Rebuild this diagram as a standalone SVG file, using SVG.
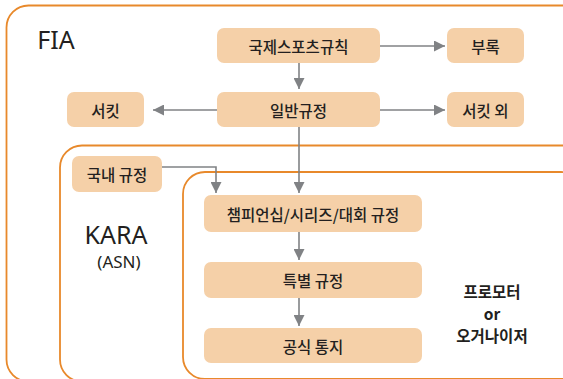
<svg xmlns="http://www.w3.org/2000/svg" width="563" height="379" viewBox="0 0 563 379">
<style>
.frame{fill:none;stroke:#E8892B;stroke-width:1.8}
.box{fill:#F5D0A8}
.t{font-family:"Noto Sans CJK KR","Noto Sans",sans-serif;font-size:15.5px;font-weight:500;fill:#231F20;text-anchor:middle;dominant-baseline:central}
.big{font-family:"Noto Sans","Liberation Sans",sans-serif;fill:#231F20;text-anchor:middle}
.pr{font-family:"Noto Sans CJK KR","Noto Sans",sans-serif;font-size:15.5px;font-weight:bold;fill:#231F20;text-anchor:middle}
.c{fill:none;stroke:#808285;stroke-width:1.6}
</style>
<defs>
<marker id="ah" markerUnits="userSpaceOnUse" markerWidth="11" markerHeight="11" refX="10" refY="5" orient="auto" viewBox="0 0 10 10">
<path d="M0,0 L10,5 L0,10 z" fill="#808285"/>
</marker>
</defs>
<g id="fia">
<rect class="frame" x="6.5" y="5.5" width="580" height="376" rx="22"/>
<text class="big" x="56" y="49" font-size="25">FIA</text>
</g>
<g id="kara">
<rect class="frame" x="60" y="145.5" width="530" height="236" rx="22"/>
<text class="big" x="116" y="244" font-size="25">KARA</text>
<text class="big" x="119" y="268" font-size="17">(ASN)</text>
</g>
<g id="promoter">
<rect class="frame" x="183" y="172" width="400" height="207" rx="22"/>
<text class="pr" x="492" y="298">프로모터</text>
<text class="pr" x="492" y="320">or</text>
<text class="pr" x="492" y="342">오거나이저</text>
</g>
<g id="n-isc"><rect class="box" x="217" y="28" width="163" height="35" rx="7"/><text class="t" x="298.5" y="45.5">국제스포츠규칙</text></g>
<g id="n-appendix"><rect class="box" x="447" y="28" width="77" height="35" rx="7"/><text class="t" x="485.5" y="45.5">부록</text></g>
<g id="n-general"><rect class="box" x="217" y="92" width="163" height="35" rx="7"/><text class="t" x="298.5" y="109.5">일반규정</text></g>
<g id="n-circuit"><rect class="box" x="67" y="92" width="77" height="35" rx="7"/><text class="t" x="105.5" y="109.5">서킷</text></g>
<g id="n-noncircuit"><rect class="box" x="447" y="92" width="77" height="35" rx="7"/><text class="t" x="485.5" y="109.5">서킷 외</text></g>
<g id="n-national"><rect class="box" x="72" y="156" width="90" height="36" rx="7"/><text class="t" x="117" y="174">국내 규정</text></g>
<g id="n-champ"><rect class="box" x="204" y="195" width="218" height="37" rx="7"/><text class="t" x="313" y="213.5">챔피언십/시리즈/대회 규정</text></g>
<g id="n-special"><rect class="box" x="204" y="262" width="218" height="36" rx="7"/><text class="t" x="313" y="280">특별 규정</text></g>
<g id="n-official"><rect class="box" x="204" y="328" width="218" height="35" rx="7"/><text class="t" x="313" y="345.5">공식 통지</text></g>
<g id="connectors">
<path class="c" d="M380,46 H445" marker-end="url(#ah)"/>
<path class="c" d="M299,63 V89" marker-end="url(#ah)"/>
<path class="c" d="M217,110 H153" marker-end="url(#ah)"/>
<path class="c" d="M380,110 H445" marker-end="url(#ah)"/>
<path class="c" d="M299,127 V193" marker-end="url(#ah)"/>
<path class="c" d="M162,167 H216 V193" marker-end="url(#ah)"/>
<path class="c" d="M299,232 V260" marker-end="url(#ah)"/>
<path class="c" d="M299,298 V326" marker-end="url(#ah)"/>
</g>
</svg>
